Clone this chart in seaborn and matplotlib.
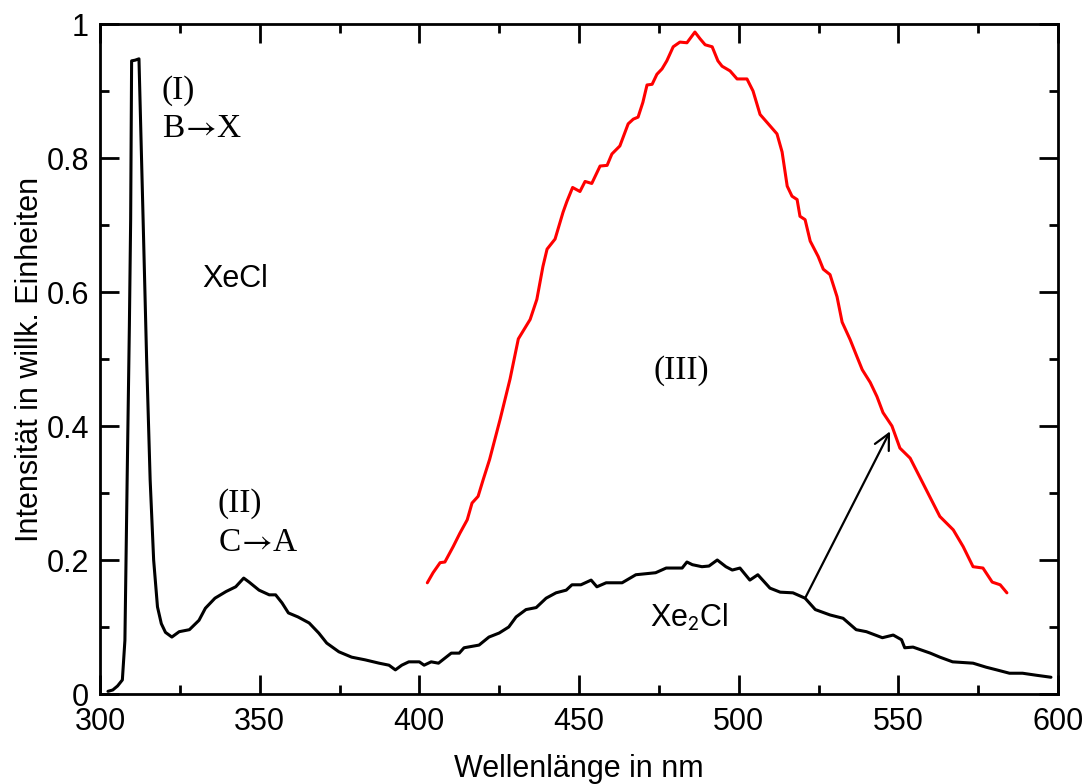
import matplotlib
matplotlib.use("Agg")
import matplotlib.pyplot as plt
from matplotlib.ticker import MultipleLocator, FixedLocator
import seaborn as sns
import pandas as pd

# ---- data ----
x_black = [302.5, 304, 305.5, 307, 307.8, 308.5, 309.2, 309.6, 309.9, 311, 312.2,
           313.5, 314.6, 315.7, 316.8, 318, 319.2, 320.5, 322.5, 324.8, 328, 331,
           333, 336, 339.5, 342.5, 345, 346.7, 349.8, 353, 355, 357, 359, 362,
           365.5, 368.5, 371, 374.8, 378.8, 383, 387.4, 390.5, 392.5, 394.5, 396.7,
           400, 401.5, 403.7, 406, 410, 412.5, 414, 418.7, 421.8, 425, 428, 430.3,
           433.4, 436.6, 439.7, 442.8, 446, 447.8, 450.6, 453.8, 455.6, 458.5,
           463.5, 467.8, 474, 477.3, 482.3, 483.8, 485.5, 488.5, 490.7, 493.3, 496,
           498, 500.4, 503.5, 506, 509.8, 513, 517, 520.8, 524, 528.6, 532.7, 536.8,
           540, 545, 548.4, 551, 552, 554.6, 560, 563, 567, 573.4, 577.5, 580.8,
           584.8, 588.9, 593.2, 597.8]
y_black = [0.004, 0.006, 0.012, 0.021, 0.08, 0.32, 0.55, 0.708, 0.945, 0.946, 0.948,
           0.708, 0.5, 0.32, 0.2, 0.13, 0.105, 0.092, 0.085, 0.093, 0.096, 0.11,
           0.128, 0.143, 0.153, 0.16, 0.173, 0.167, 0.155, 0.148, 0.148, 0.136,
           0.121, 0.115, 0.106, 0.091, 0.076, 0.063, 0.055, 0.051, 0.046, 0.043,
           0.036, 0.043, 0.048, 0.048, 0.043, 0.048, 0.046, 0.061, 0.061, 0.069,
           0.073, 0.085, 0.091, 0.1, 0.115, 0.126, 0.129, 0.143, 0.151, 0.155,
           0.163, 0.163, 0.170, 0.16, 0.166, 0.166, 0.178, 0.181, 0.188, 0.188,
           0.197, 0.193, 0.19, 0.191, 0.2, 0.19, 0.185, 0.188, 0.17, 0.178, 0.158,
           0.152, 0.151, 0.143, 0.126, 0.118, 0.113, 0.096, 0.093, 0.084, 0.088,
           0.081, 0.069, 0.07, 0.061, 0.055, 0.048, 0.046, 0.04, 0.036, 0.031,
           0.031, 0.028, 0.025]

x_red = [402.5, 404.3, 406.5, 408, 410.6, 412.7, 415, 416.5, 418.4, 420, 422, 425.3,
         428.4, 431, 434.7, 436.8, 438.7, 440, 442.5, 445, 446.2, 448, 450.3, 451.9,
         454, 456.6, 458.8, 460.3, 462.8, 465.4, 467, 468.5, 470, 471.3, 472.9,
         474.4, 476, 477.5, 479.5, 481.6, 483.8, 486.3, 487.9, 489.5, 491.7, 493.5,
         494.8, 497.3, 499.5, 502.6, 504.5, 506.7, 508.9, 512, 513.6, 515.2, 516.7,
         518.3, 519.2, 520.8, 522.4, 524.9, 526.5, 528.6, 530.8, 532.4, 534.9, 537,
         538.7, 541.2, 543.3, 545.2, 548, 550.5, 553.7, 556.8, 560, 563, 567.2,
         570.3, 573.4, 576.5, 579.4, 581.9, 584]
y_red = [0.166, 0.181, 0.196, 0.197, 0.22, 0.24, 0.26, 0.285, 0.295, 0.32, 0.35,
         0.41, 0.47, 0.53, 0.559, 0.589, 0.638, 0.664, 0.679, 0.719, 0.735, 0.756,
         0.75, 0.765, 0.762, 0.788, 0.789, 0.806, 0.818, 0.851, 0.858, 0.861, 0.883,
         0.909, 0.910, 0.925, 0.933, 0.945, 0.966, 0.973, 0.972, 0.988, 0.978,
         0.969, 0.966, 0.945, 0.937, 0.93, 0.918, 0.918, 0.9, 0.865, 0.853, 0.836,
         0.809, 0.758, 0.743, 0.738, 0.713, 0.708, 0.676, 0.653, 0.634, 0.626,
         0.593, 0.555, 0.529, 0.504, 0.484, 0.465, 0.444, 0.42, 0.4, 0.367, 0.352,
         0.323, 0.293, 0.265, 0.245, 0.22, 0.19, 0.188, 0.167, 0.163, 0.151]

x_ticks = [300, 350, 400, 450, 500, 550, 600]
x_tick_labels = ["300", "350", "400", "450", "500", "550", "600"]
y_ticks = [0, 0.2, 0.4, 0.6, 0.8, 1.0]
y_tick_labels = ["0", "0.2", "0.4", "0.6", "0.8", "1"]

x_label = "Wellenlänge in nm"
y_label = "Intensität in willk. Einheiten"

df_black = pd.DataFrame({"x": x_black, "y": y_black})
df_red = pd.DataFrame({"x": x_red, "y": y_red})

# ---- style ----
sns.set_style("ticks")
plt.rcParams["font.family"] = ["Liberation Sans", "DejaVu Sans"]
plt.rcParams["axes.linewidth"] = 2.0
plt.rcParams["text.color"] = "black"
plt.rcParams["axes.labelcolor"] = "black"
plt.rcParams["xtick.color"] = "black"
plt.rcParams["ytick.color"] = "black"
plt.rcParams["mathtext.fontset"] = "stix"

fig = plt.figure(figsize=(10.89, 7.84), dpi=100)
ax = fig.add_axes([100 / 1089, 90 / 784, 958 / 1089, 670 / 784])

sns.lineplot(data=df_black, x="x", y="y", ax=ax, color="black", linewidth=2.2,
             sort=False, estimator=None)
sns.lineplot(data=df_red, x="x", y="y", ax=ax, color="#ff0000", linewidth=2.2,
             sort=False, estimator=None)

ax.set_xlim(300, 600)
ax.set_ylim(0, 1)
ax.xaxis.set_major_locator(FixedLocator(x_ticks))
ax.set_xticklabels(x_tick_labels)
ax.yaxis.set_major_locator(FixedLocator(y_ticks))
ax.set_yticklabels(y_tick_labels)
ax.xaxis.set_minor_locator(MultipleLocator(25))
ax.yaxis.set_minor_locator(MultipleLocator(0.1))
ax.tick_params(which="both", direction="in", top=True, right=True, width=2.0,
               color="black", labelsize=22, labelcolor="black")
ax.tick_params(axis="x", which="major", length=13.5, pad=9.5)
ax.tick_params(axis="y", which="major", length=13.5, pad=8)
ax.tick_params(which="minor", length=6.5)
for s in ax.spines.values():
    s.set_visible(True)
    s.set_color("black")
    s.set_linewidth(2.0)

ax.set_xlabel(x_label, fontsize=22, labelpad=12, color="black")
ax.set_ylabel(y_label, fontsize=22, labelpad=1, color="black")

serif = ["Liberation Serif", "DejaVu Serif"]
arrow = "$\\!\\rightarrow\\!$"
ax.text(319.4, 0.889, "(I)", family=serif, fontsize=24, va="baseline", color="black")
ax.text(319.4, 0.832, "B" + arrow + "X", family=serif, fontsize=24, va="baseline", color="black")
ax.text(336.9, 0.272, "(II)", family=serif, fontsize=24, va="baseline", color="black")
ax.text(336.9, 0.213, "C" + arrow + "A", family=serif, fontsize=24, va="baseline", color="black")
ax.text(473.2, 0.470, "(III)", family=serif, fontsize=24, va="baseline", color="black")
ax.text(331.9, 0.608, "XeCl", fontsize=22, va="baseline", color="black")
ax.text(472.3, 0.100, "Xe$_\\mathsf{2}$Cl", fontsize=22, va="baseline", color="black")

ax.annotate("", xy=(547.4, 0.392), xytext=(520.8, 0.143),
            arrowprops=dict(arrowstyle="->", color="black", lw=1.6,
                            mutation_scale=28, shrinkA=0, shrinkB=0))

fig.savefig("out.png", dpi=100)
